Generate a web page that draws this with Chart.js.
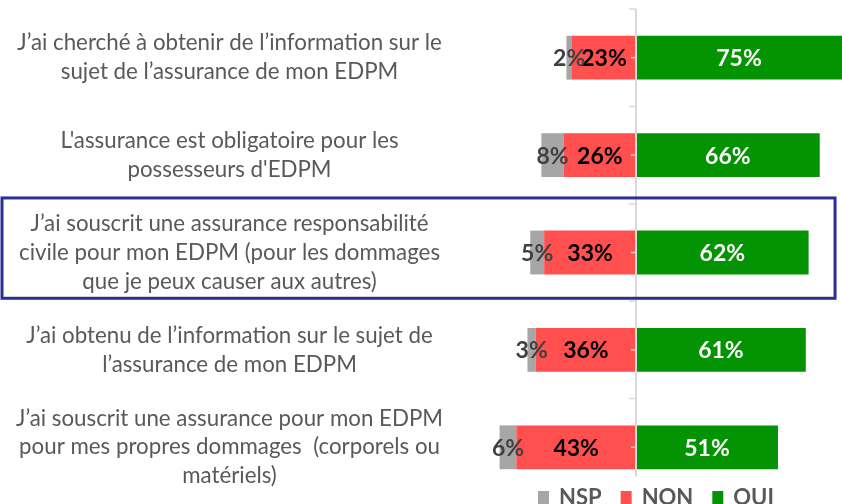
<!DOCTYPE html>
<html>
<head>
<meta charset="utf-8">
<script src="https://cdn.jsdelivr.net/npm/chart.js@4"></script>
<style>
  html, body { margin: 0; padding: 0; background: #fff; }
  #wrap { width: 842px; height: 504px; position: relative; }
</style>
</head>
<body>
<div id="wrap"><canvas id="c"></canvas></div>
<script>
var categories = [
    ["J\u2019ai cherché à obtenir de l\u2019information sur le", "sujet de l\u2019assurance de mon EDPM"],
    ["L'assurance est obligatoire pour les", "possesseurs d'EDPM"],
    ["J\u2019ai souscrit une assurance responsabilité", "civile pour mon EDPM (pour les dommages", "que je peux causer aux autres)"],
    ["J\u2019ai obtenu de l\u2019information sur le sujet de", "l\u2019assurance de mon EDPM"],
    ["J\u2019ai souscrit une assurance pour mon EDPM", "pour mes propres dommages  (corporels ou", "matériels)"]
];
var oui = [75, 66, 62, 61, 51];
var non = [23, 26, 33, 36, 43];
var nsp = [2, 8, 5, 3, 6];
var highlighted = 2;

var colOui = '#039303';
var colNon = '#FF4F4F';
var colNsp = '#A6A6A6';

// axe central, étiquettes, cadre, légende
var decor = {
    id: 'decor',
    afterDatasetsDraw: function (chart) {
        var ctx = chart.ctx;
        var x = chart.scales.x, y = chart.scales.y;
        var area = chart.chartArea;
        var step = y.getPixelForValue(1) - y.getPixelForValue(0);
        var x0 = x.getPixelForValue(0);

        // axe vertical
        ctx.save();
        ctx.strokeStyle = '#D9D9D9';
        ctx.lineWidth = 2;
        ctx.beginPath();
        ctx.moveTo(x0, y.getPixelForValue(-0.5));
        ctx.lineTo(x0, y.getPixelForValue(4.3));
        ctx.stroke();
        ctx.lineWidth = 1.5;
        for (var i = 0; i < categories.length; i++) {
            var yb = y.getPixelForValue(i - 0.5);
            ctx.beginPath(); ctx.moveTo(x0 - 7, yb); ctx.lineTo(x0, yb); ctx.stroke();
            var yc = y.getPixelForValue(i);
            ctx.beginPath(); ctx.moveTo(x0 - 5, yc); ctx.lineTo(x0, yc); ctx.stroke();
        }
        ctx.restore();

        // étiquettes
        ctx.save();
        ctx.font = 'bold 23px Lato';
        ctx.textAlign = 'center';
        ctx.textBaseline = 'middle';
        chart.data.datasets.forEach(function (ds, di) {
            var meta = chart.getDatasetMeta(di);
            meta.data.forEach(function (bar, j) {
                var a = Math.max(Math.min(bar.x, bar.base), area.left);
                var b = Math.min(Math.max(bar.x, bar.base), area.right);
                ctx.fillStyle = ds.labelColor;
                ctx.fillText(Math.abs(ds.data[j]) + '%', (a + b) / 2, bar.y + 1);
            });
        });
        ctx.restore();

        // cadre
        var yh = y.getPixelForValue(highlighted);
        ctx.save();
        ctx.strokeStyle = '#2B2E98';
        ctx.lineWidth = 3;
        ctx.strokeRect(2, yh - step * 0.56, x.getPixelForValue(71.5) - 2, step * 1.03);
        ctx.restore();

        // légende
        var order = [1, 0, 2];
        ctx.save();
        ctx.font = 'bold 22px Lato';
        ctx.textBaseline = 'alphabetic';
        ctx.textAlign = 'left';
        var lx = 538, ly = 505;
        order.forEach(function (di) {
            var ds = chart.data.datasets[di];
            ctx.fillStyle = ds.backgroundColor;
            ctx.fillRect(lx, ly - 14, 11, 16);
            ctx.fillStyle = '#595959';
            ctx.fillText(ds.label, lx + 21, ly);
            lx += 21 + ctx.measureText(ds.label).width + 19;
        });
        ctx.restore();
    }
};

new Chart(document.getElementById('c'), {
    type: 'bar',
    data: {
        labels: categories,
        datasets: [
            { label: 'NON', data: non.map(function (v) { return -v; }), backgroundColor: colNon, labelColor: '#000000' },
            { label: 'NSP', data: nsp.map(function (v) { return -v; }), backgroundColor: colNsp, labelColor: '#404040' },
            { label: 'OUI', data: oui, backgroundColor: colOui, labelColor: '#FFFFFF' }
        ]
    },
    options: {
        indexAxis: 'y',
        responsive: true,
        maintainAspectRatio: false,
        animation: false,
        layout: { padding: { top: 9, bottom: 8, left: 0, right: 0 } },
        datasets: {
            bar: { categoryPercentage: 1, barPercentage: 0.45, borderWidth: 0 }
        },
        plugins: {
            legend: { display: false },
            tooltip: { enabled: false }
        },
        scales: {
            x: {
                stacked: true,
                display: false,
                min: -60,
                max: 74
            },
            y: {
                stacked: true,
                grid: { display: false },
                border: { display: false },
                ticks: {
                    crossAlign: 'center',
                    padding: 18,
                    color: '#595959',
                    font: { family: 'Lato', size: 22.3, lineHeight: 1.3 }
                },
                afterFit: function (scale) {
                    scale.width = 469;
                    scale.paddingTop = 0;
                    scale.paddingBottom = 0;
                }
            }
        }
    },
    plugins: [decor]
});
</script>
</body>
</html>
